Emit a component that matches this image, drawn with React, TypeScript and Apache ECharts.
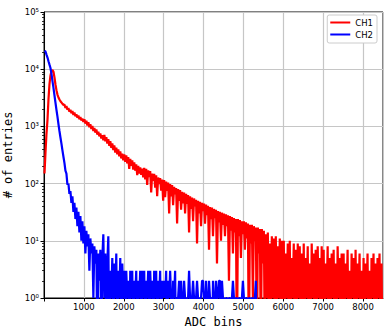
import React, { useEffect, useRef } from "react";
import * as echarts from "echarts";

// Histogram bin width (ADC units) and axis range
const BIN_WIDTH = 25;
const X_MAX = 8500;

// CH1 counts per bin (bins of BIN_WIDTH starting at 0), 20 bins per row = 500 ADC
const ch1Counts = [
  150, 350, 750, 1300, 3000, 5500, 7800, 9300, 9700, 9000, 7200, 5400, 4300, 3600, 3200, 2950, 2750, 2620, 2480, 2380,
  2420, 2110, 2260, 1950, 2100, 1810, 1960, 1700, 1850, 1590, 1740, 1500, 1620, 1420, 1550, 1330, 1460, 1270, 1370, 1200,
  1340, 1120, 1260, 1040, 1180, 970, 1090, 900, 1020, 830, 940, 780, 880, 720, 810, 670, 750, 615, 700, 570,
  710, 550, 650, 500, 600, 455, 550, 420, 505, 385, 465, 350, 425, 325, 395, 300, 365, 275, 335, 255,
  325, 240, 310, 225, 290, 180, 270, 205, 255, 175, 235, 168, 218, 140, 205, 150, 192, 142, 182, 128,
  188, 118, 182, 95, 170, 130, 165, 70, 150, 112, 148, 85, 140, 60, 128, 98, 125, 75, 118, 50,
  115, 58, 108, 75, 104, 30, 98, 60, 94, 42, 88, 65, 84, 20, 80, 50, 77, 35, 72, 45,
  70, 30, 66, 44, 63, 14, 60, 36, 57, 22, 55, 40, 52, 9, 50, 30, 48, 18, 46, 33,
  45, 20, 43, 28, 41, 7, 39, 24, 38, 12, 36, 25, 35, 4, 33, 21, 32, 10, 31, 19,
  30, 12, 29, 18, 28, 2, 27, 15, 26, 6, 25, 14, 24, 0, 24, 12, 23, 5, 22, 13,
  22, 7, 21, 11, 20, 0, 19, 9, 19, 1, 18, 10, 17, 0, 17, 6, 16, 0, 16, 4,
  15, 0, 13, 1, 14, 0, 9, 0, 12, 1, 11, 0, 12, 0, 8, 1, 11, 0, 10, 0,
  10, 0, 6, 1, 9, 0, 10, 0, 5, 1, 9, 0, 7, 0, 9, 1, 8, 0, 6, 0,
  9, 0, 5, 1, 8, 0, 4, 0, 9, 1, 6, 0, 7, 0, 8, 1, 5, 0, 8, 0,
  7, 0, 4, 1, 8, 0, 5, 0, 6, 1, 7, 0, 4, 0, 8, 1, 5, 0, 6, 0,
  6, 0, 4, 1, 7, 0, 3, 0, 6, 1, 5, 0, 7, 0, 4, 1, 6, 0, 3, 0,
  5, 0, 4, 1, 6, 0, 3, 0, 5, 1, 6, 0, 4, 0, 5, 1, 6, 0, 4, 0,
];

// CH2 counts per bin (nothing above 5500 ADC)
const ch2Counts = [
  21000, 20400, 18000, 16000, 13800, 12000, 10500, 8300, 6200, 4700, 3500, 2600, 1950, 1480, 1100, 830, 640, 500, 380, 295,
  230, 168, 150, 96, 100, 66, 74, 46, 60, 32, 46, 24, 38, 18, 32, 14, 27, 10, 22, 9,
  18, 6, 15, 8, 13, 3, 11, 6, 9, 1, 8, 4, 7, 0, 6, 2, 7, 0, 5, 13,
  1, 6, 0, 4, 12, 0, 3, 1, 5, 0, 4, 1, 6, 0, 3, 1, 5, 0, 4, 1,
  3, 0, 3, 1, 2, 0, 3, 1, 3, 0, 2, 1, 3, 0, 2, 1, 3, 0, 3, 1,
  3, 0, 2, 1, 3, 0, 3, 1, 2, 0, 3, 1, 3, 0, 2, 1, 3, 0, 2, 1,
  2, 1, 3, 0, 2, 1, 3, 1, 0, 2, 1, 3, 0, 1, 1, 2, 0, 2, 1, 0,
  2, 1, 0, 1, 1, 3, 1, 0, 1, 2, 1, 0, 1, 2, 1, 0, 1, 1, 2, 2,
  1, 0, 2, 1, 0, 2, 1, 1, 0, 2, 1, 0, 2, 1, 1, 2, 2, 0, 2, 1,
  1, 0, 1, 1, 0, 1, 1, 0, 1, 2, 1, 0, 1, 1, 0, 1, 1, 0, 1, 2,
  1, 0, 1, 1, 0, 1, 1, 0, 1, 1, 0, 1, 2, 0, 0, 0, 0, 0, 0, 0,
];

const seriesNames = ["CH1", "CH2"];
const seriesColors = ["#ff0000", "#0000ff"];
const xTickLabels = ["1000", "2000", "3000", "4000", "5000", "6000", "7000", "8000"];
const yTickLabels = ["10⁰", "10¹", "10²", "10³", "10⁴", "10⁵"];
const minorMultipliers = [2, 3, 4, 5, 6, 7, 8, 9];

const FLOOR = 0.1; // empty bins drop below the log axis

function toLine(counts: number[]) {
  return counts.map((c, i) => [i * BIN_WIDTH + BIN_WIDTH / 2, c > 0 ? c : FLOOR]);
}

export default function App() {
  const ref = useRef<HTMLDivElement>(null);
  useEffect(() => {
    if (!ref.current) return;
    const chart = echarts.init(ref.current, null, { renderer: "svg" });
    const minorTicks: number[] = [];
    for (let d = 0; d < 5; d++) {
      for (const m of minorMultipliers) minorTicks.push(m * Math.pow(10, d));
    }
    const font = "DejaVu Sans";
    const mono = "DejaVu Sans Mono";
    chart.setOption({
      animation: false,
      backgroundColor: "#fff",
      grid: {
        left: 44,
        right: 1,
        top: 12,
        bottom: 30,
        outerBoundsMode: "none",
        containLabel: false,
        show: true,
        borderColor: "#000",
        borderWidth: 1,
        backgroundColor: "transparent",
      },
      legend: {
        data: seriesNames,
        orient: "vertical",
        right: 7,
        top: 15,
        icon: "rect",
        itemWidth: 20,
        itemHeight: 2,
        itemGap: 3,
        padding: [3, 4, 4, 3],
        borderColor: "#cccccc",
        borderWidth: 1,
        borderRadius: 2,
        backgroundColor: "#ffffff",
        textStyle: { fontFamily: font, fontSize: 8.5, color: "#000", lineHeight: 9 },
      },
      xAxis: {
        type: "value",
        min: 0,
        max: X_MAX,
        interval: 1000,
        name: "ADC bins",
        nameLocation: "middle",
        nameGap: 17,
        nameTextStyle: { fontFamily: mono, fontSize: 12, color: "#000" },
        axisLine: { show: true, lineStyle: { color: "#000", width: 1 } },
        axisTick: { show: true, length: 3.5, lineStyle: { color: "#000" } },
        axisLabel: {
          fontFamily: font,
          fontSize: 8.5,
          color: "#000",
          margin: 4,
          showMaxLabel: false,
          formatter: (v: number) => {
            const s = String(v);
            return xTickLabels.includes(s) ? s : "";
          },
        },
        splitLine: { show: true, lineStyle: { color: "#c6c6c6", width: 1.2 } },
      },
      yAxis: [
        {
          type: "log",
          logBase: 10,
          min: 1,
          max: 100000,
          name: "# of entries",
          nameLocation: "middle",
          nameGap: 24,
          nameTextStyle: { fontFamily: mono, fontSize: 12, color: "#000" },
          axisLine: { show: true, lineStyle: { color: "#000", width: 1 } },
          axisTick: { show: true, length: 3.5, lineStyle: { color: "#000" } },
          axisLabel: {
            fontFamily: font,
            fontSize: 8.5,
            color: "#000",
            margin: 5,
            formatter: (v: number) => yTickLabels[Math.round(Math.log10(v))] ?? "",
          },
          splitLine: { show: true, lineStyle: { color: "#c6c6c6", width: 1.2 } },
        },
        {
          type: "log",
          logBase: 10,
          min: 1,
          max: 100000,
          position: "left",
          axisLine: { show: false },
          axisLabel: { show: false },
          splitLine: { show: false },
          axisTick: {
            show: true,
            length: 2,
            customValues: minorTicks,
            lineStyle: { color: "#000", width: 0.8 },
          },
        },
      ],
      series: [
        {
          name: seriesNames[0],
          type: "line",
          data: toLine(ch1Counts),
          showSymbol: false,
          symbol: "none",
          clip: true,
          lineStyle: { color: seriesColors[0], width: 2.2 },
          itemStyle: { color: seriesColors[0] },
          yAxisIndex: 0,
        },
        {
          name: seriesNames[1],
          type: "line",
          data: toLine(ch2Counts),
          showSymbol: false,
          symbol: "none",
          clip: true,
          lineStyle: { color: seriesColors[1], width: 2.2 },
          itemStyle: { color: seriesColors[1] },
          yAxisIndex: 0,
        },
      ],
    });
    return () => chart.dispose();
  }, []);
  return (
    <div
      ref={ref}
      style={{ position: "fixed", left: 0, top: 0, width: 384, height: 328 }}
    />
  );
}
